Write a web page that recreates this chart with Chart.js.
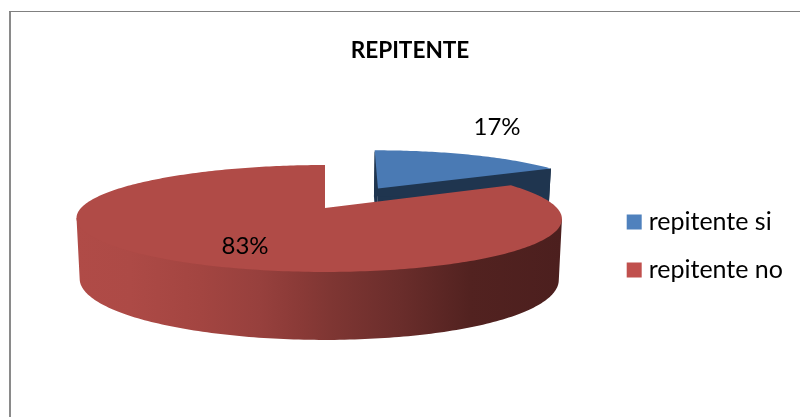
<!DOCTYPE html>
<html><head><meta charset="utf-8">
<style>html,body{margin:0;padding:0;background:#fff}#w{width:800px;height:417px;position:relative}</style>
<script src="https://cdn.jsdelivr.net/npm/chart.js@4/dist/chart.umd.min.js"></script>
</head><body><div id="w"><canvas id="c" width="800" height="417"></canvas></div>
<script>
const categories = ['repitente si', 'repitente no'];
const seriesValues = [17, 83];
const chartTitle = 'REPITENTE';
const legendColors = ['#4f81bd', '#c0504d'];
const topColors = ['#4a7ab4', '#b04b47'];
const blueWall = '#1f354f';
const redWallStops = [[76,'#b04b47'],[130,'#ad4a46'],[200,'#a34541'],[260,'#97403d'],[300,'#8a3a37'],[330,'#7f3633'],[400,'#6a2d2b'],[470,'#522220'],[562,'#4c1f1e']];
const labelPos = [[497,127],[245,246]];

// perspective view of the flat pie
const V = {cx:325, cy:208, rx:238, ry:51.4, k:0.196, bow:6, shear:5, grow:1.03, h0:59, h1:9, bcx:319, bs:0.987};
function proj(u, v, vRel) {
  const s = 1/(1 - V.k*v);
  return {x: V.cx + V.rx*u*s - V.bow*u*u - V.shear*(vRel||0), y: V.cy + V.ry*v*s};
}
function drop(p, v) {
  return {x: V.bcx + (p.x - V.bcx)*V.bs, y: p.y + V.h0 + V.h1*v};
}
function poly(ctx, pts, fill) {
  ctx.beginPath();
  pts.forEach((p,i)=> i ? ctx.lineTo(p.x,p.y) : ctx.moveTo(p.x,p.y));
  ctx.closePath(); ctx.fillStyle = fill; ctx.fill();
}
const pie3d = {
  id:'pie3d',
  beforeDraw(chart){
    const c = chart.ctx;
    c.save();
    c.fillStyle='#fff'; c.fillRect(0,0,800,417);
    c.fillStyle='#8a8a8a'; c.fillRect(9,11,2,406);
    c.fillStyle='#808080'; c.fillRect(9,11,791,1);
    c.restore();
  },
  beforeDatasetsDraw(chart){
    const ctx = chart.ctx, meta = chart.getDatasetMeta(0);
    const g = ctx.createLinearGradient(76,0,562,0);
    redWallStops.forEach(([x,col])=>g.addColorStop((x-76)/486,col));
    meta.data.forEach((el,i)=>{
      const a0 = el.startAngle, a1 = el.endAngle, mid=(a0+a1)/2;
      const off = (el.options.offset||0)/4/el.outerRadius;
      const du = Math.cos(mid)*off, dv = Math.sin(mid)*off;
      const n = Math.ceil((a1-a0)/(Math.PI/180));
      const arc = [], vs = [];
      const sh = off>0, gr = sh ? V.grow : 1;
      for(let j=0;j<=n;j++){
        const a=a0+(a1-a0)*j/n, vr=Math.sin(a)*gr;
        const v=vr+dv;
        arc.push(proj(Math.cos(a)*gr+du, v, sh?vr:0)); vs.push(v);
      }
      const apex = proj(du,dv,0);
      const wallFill = sh ? blueWall : g;
      const apexB = drop(apex,dv);
      if(sh){
        poly(ctx,[apex,arc[0],drop(arc[0],vs[0]),apexB],wallFill);
        poly(ctx,[apex,arc[n],drop(arc[n],vs[n]),apexB],wallFill);
      }
      // outer wall: only the stretch between the two side extremes faces the viewer
      let jMin=0,jMax=0;
      arc.forEach((p,j)=>{ if(p.x<arc[jMin].x) jMin=j; if(p.x>arc[jMax].x) jMax=j; });
      const from=Math.min(jMin,jMax), to=Math.max(jMin,jMax);
      const front=arc.slice(from,to+1);
      const under=front.map((p,j)=>drop(p,vs[from+j])).reverse();
      // tuck the wall's upper edge under the top face so no pale seam shows
      const tucked=front.map(p=>({x:apex.x+(p.x-apex.x)*0.992,y:apex.y+(p.y-apex.y)*0.96}));
      poly(ctx,[...tucked,...[front[front.length-1]],...under,front[0]],wallFill);
      poly(ctx,[apex].concat(arc),topColors[i]);
    });
    return false;
  },
  afterDraw(chart){
    const ctx=chart.ctx, total=seriesValues.reduce((a,b)=>a+b,0);
    ctx.save();
    ctx.font='24px Lato'; ctx.fillStyle='#000'; ctx.textAlign='center'; ctx.textBaseline='middle';
    seriesValues.forEach((v,i)=>ctx.fillText(Math.round(v/total*100)+'%',labelPos[i][0],labelPos[i][1]));
    ctx.restore();
  }
};
new Chart(document.getElementById('c'),{
  type:'pie',
  data:{labels:categories,datasets:[{data:seriesValues,backgroundColor:legendColors,borderColor:legendColors,borderWidth:11,offset:[190,0]}]},
  plugins:[pie3d],
  options:{
    responsive:false,animation:false,radius:100,
    layout:{padding:{left:27,right:7,top:0,bottom:0}},
    plugins:{
      tooltip:{enabled:false},
      title:{display:true,text:chartTitle,color:'#000',font:{family:'Lato',size:22.6,weight:'bold'},padding:{top:37,bottom:11}},
      legend:{position:'right',fullSize:false,labels:{color:'#000',font:{family:'Lato',size:25},boxWidth:4,boxHeight:4,padding:23}}
    }
  }
});
</script></body></html>
